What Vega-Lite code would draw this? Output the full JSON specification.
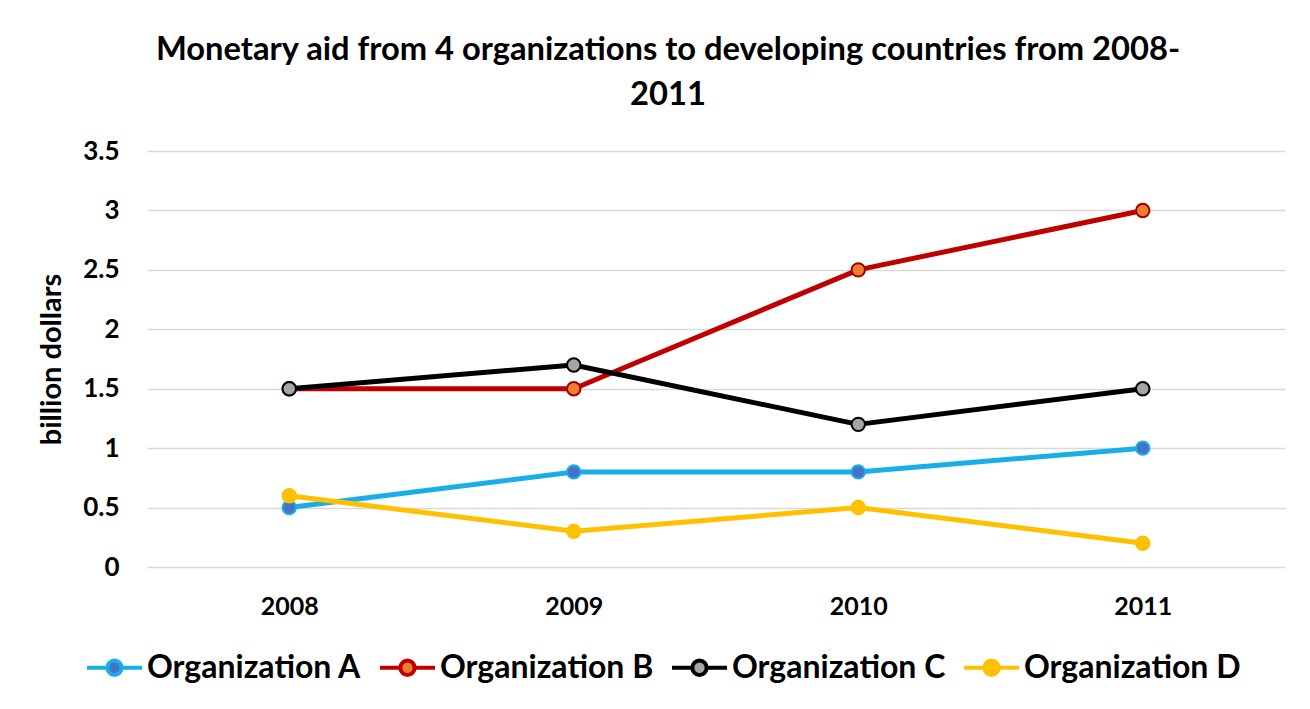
{
  "$schema": "https://vega.github.io/schema/vega-lite/v6.json",
  "width": 1138,
  "height": 416,
  "autosize": {"type": "none"},
  "padding": {"left": 147, "top": 151, "right": 25, "bottom": 142},
  "background": "white",
  "config": {
    "font": "Lato",
    "view": {"stroke": null},
    "axis": {"labelFont": "Lato", "labelFontWeight": "bold", "labelColor": "#000000", "titleFont": "Lato", "titleFontWeight": "bold", "titleColor": "#000000"}
  },
  "title": {
    "text": ["Monetary aid from 4 organizations to developing countries from 2008-", "2011"],
    "font": "Lato",
    "fontSize": 32.7,
    "fontWeight": "bold",
    "color": "#000000",
    "lineHeight": 45,
    "anchor": "middle",
    "frame": "group",
    "dx": -48,
    "offset": 26
  },
  "data": {
    "values": [
      {"year": "2008", "org": "Organization A", "value": 0.5},
      {"year": "2009", "org": "Organization A", "value": 0.8},
      {"year": "2010", "org": "Organization A", "value": 0.8},
      {"year": "2011", "org": "Organization A", "value": 1.0},
      {"year": "2008", "org": "Organization B", "value": 1.5},
      {"year": "2009", "org": "Organization B", "value": 1.5},
      {"year": "2010", "org": "Organization B", "value": 2.5},
      {"year": "2011", "org": "Organization B", "value": 3.0},
      {"year": "2008", "org": "Organization C", "value": 1.5},
      {"year": "2009", "org": "Organization C", "value": 1.7},
      {"year": "2010", "org": "Organization C", "value": 1.2},
      {"year": "2011", "org": "Organization C", "value": 1.5},
      {"year": "2008", "org": "Organization D", "value": 0.6},
      {"year": "2009", "org": "Organization D", "value": 0.3},
      {"year": "2010", "org": "Organization D", "value": 0.5},
      {"year": "2011", "org": "Organization D", "value": 0.2}
    ]
  },
  "encoding": {
    "x": {
      "field": "year",
      "type": "ordinal",
      "scale": {"type": "point", "padding": 0.5},
      "axis": {"title": null, "labelAngle": 0, "labelFontSize": 25, "labelPadding": 27, "ticks": false, "domain": false, "grid": false}
    },
    "y": {
      "field": "value",
      "type": "quantitative",
      "scale": {"domain": [0, 3.5], "nice": false},
      "axis": {"title": "billion dollars", "titleFontSize": 29, "titlePadding": 16, "values": [0, 0.5, 1, 1.5, 2, 2.5, 3, 3.5], "format": "~g", "labelFontSize": 26, "labelPadding": 28, "ticks": false, "domain": false, "grid": true, "gridColor": "#D9D9D9", "gridWidth": 1.3}
    }
  },
  "layer": [
    {
      "mark": {"type": "line", "strokeWidth": 5, "strokeJoin": "round", "strokeCap": "round"},
      "encoding": {
        "color": {
          "field": "org",
          "type": "nominal",
          "scale": {"domain": ["Organization A", "Organization B", "Organization C", "Organization D"], "range": ["#1AAEE8", "#C00000", "#000000", "#FFC000"]},
          "legend": {
            "title": null,
            "orient": "none",
            "direction": "horizontal",
            "legendX": -62,
            "legendY": 487,
            "labelFont": "Lato",
            "labelFontSize": 32,
            "labelFontWeight": "bold",
            "labelColor": "#000000",
            "labelLimit": 0,
            "labelOffset": 3,
            "columnPadding": 10,
            "symbolSize": 3025,
            "symbolStrokeWidth": 4,
            "symbolType": "M-1,0H-0.26M0.26,0H1M0.26,0A0.26,0.26 0 1 1 -0.26,0A0.26,0.26 0 1 1 0.26,0Z",
            "encode": {
              "symbols": {
                "update": {
                  "fill": {"signal": "{'Organization A':'#4472C4','Organization B':'#ED7D31','Organization C':'#A5A5A5','Organization D':'#FFC000'}[datum.value]"},
                  "fillOpacity": {"value": 1}
                }
              }
            }
          }
        }
      }
    },
    {
      "mark": {"type": "point", "filled": true, "size": 180, "strokeWidth": 2, "opacity": 1, "shape": "circle"},
      "encoding": {
        "fill": {
          "field": "org",
          "type": "nominal",
          "scale": {"domain": ["Organization A", "Organization B", "Organization C", "Organization D"], "range": ["#4472C4", "#ED7D31", "#A5A5A5", "#FFC000"]},
          "legend": null
        },
        "stroke": {
          "field": "org",
          "type": "nominal",
          "scale": {"domain": ["Organization A", "Organization B", "Organization C", "Organization D"], "range": ["#1AAEE8", "#A00000", "#000000", "#FFC000"]},
          "legend": null
        }
      }
    }
  ]
}
